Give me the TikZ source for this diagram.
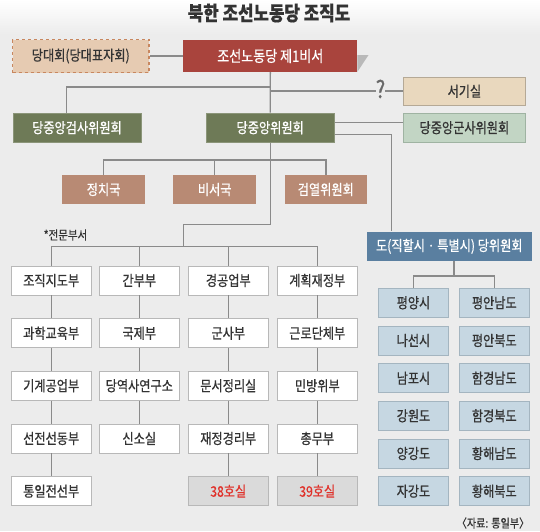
\documentclass[tikz,border=0pt]{standalone}
\usepackage{fontspec}
\setmainfont[FakeStretch=0.84, FakeBold=0.6]{Noto Sans CJK KR}
\usetikzlibrary{calc}
\definecolor{bgc}{HTML}{ECECEC}
\definecolor{olivec}{HTML}{6E7A57}
\definecolor{rosec}{HTML}{B88A74}
\definecolor{redc}{HTML}{A9443D}
\definecolor{tanc}{HTML}{E6CBB2}
\definecolor{tanedge}{HTML}{C8875F}
\definecolor{tan2}{HTML}{E9D8BE}
\definecolor{tan2edge}{HTML}{B5A996}
\definecolor{greenc}{HTML}{C2D5C4}
\definecolor{greenedge}{HTML}{9FB3A2}
\definecolor{provc}{HTML}{5A7FA0}
\definecolor{lblue}{HTML}{C6D7E2}
\definecolor{lblueedge}{HTML}{A4B5C0}
\definecolor{wedge}{HTML}{B8B8B8}
\definecolor{grayfill}{HTML}{DADADA}
\definecolor{redtxt}{HTML}{E0312A}
\definecolor{linec}{HTML}{8A8A8A}
\definecolor{txt}{HTML}{333333}
\tikzset{
  base/.style={rectangle, inner sep=0pt, anchor=center, font=\fontsize{14.5}{16}\selectfont},
  wbox/.style={base, fill=white, draw=wedge, line width=0.8pt, minimum width=80pt, minimum height=29pt, text=txt},
  rbox/.style={base, fill=grayfill, draw=wedge, line width=0.8pt, minimum width=80pt, minimum height=29pt, text=redtxt},
  bbox/.style={base, fill=lblue, draw=lblueedge, line width=0.8pt, minimum width=70pt, minimum height=29pt, text=txt},
  obox/.style={base, fill=olivec, draw=olivec!80!white, line width=0.8pt, minimum width=128pt, minimum height=29.5pt, text=white},
  brbox/.style={base, fill=rosec, minimum width=82.6pt, minimum height=29pt, text=white},
  conn/.style={draw=linec, line width=1.4pt},
}
\begin{document}
\begin{tikzpicture}[x=1pt,y=-1pt]
\useasboundingbox (0,0) rectangle (540,531);
\fill[bgc] (0,0) rectangle (540,531);
\shade[top color=white, bottom color=bgc] (0,0) rectangle (540,34);
% title
\node[font=\fontsize{20}{22}\selectfont\bfseries, text=txt] (title) at (269,13) {북한 조선노동당 조직도};
% top row
\node[base, fill=tanc, draw=tanedge, dashed, line width=1.3pt, minimum width=136.5pt, minimum height=33pt, text=txt] (dhd) at (80.75,56) {당대회(당대표자회)};
\fill[gray!55] (357.3,55) -- (368.5,55) -- (357.3,72) -- cycle;
\node[base, fill=redc, minimum width=174pt, minimum height=32pt, text=white, font=\fontsize{15.5}{17}\selectfont] (sec1) at (270.3,56) {조선노동당 제1비서};
\node[base, fill=tan2, draw=tan2edge, line width=0.8pt, minimum width=122pt, minimum height=28.5pt, text=txt] (sgs) at (464.4,91.2) {서기실};
\node[text=linec!75!black, font=\fontsize{24}{26}\selectfont, inner sep=0pt] (q) at (380.5,89) {?};
% second row
\node[obox] (gsw) at (77,127.7) {당중앙검사위원회};
\node[obox] (cc) at (270.2,127.7) {당중앙위원회};
\node[base, fill=greenc, draw=greenedge, line width=0.8pt, minimum width=122pt, minimum height=29.5pt, text=txt] (gsa) at (464.4,127.7) {당중앙군사위원회};
% third row
\node[brbox] (pol) at (103.6,189.5) {정치국};
\node[brbox] (secb) at (214.7,189.5) {비서국};
\node[brbox] (insp) at (325.8,189.5) {검열위원회};
% province
\node[base, fill=provc, minimum width=164.7pt, minimum height=29.3pt, text=white] (prov) at (449.3,246.3) {도(직할시 · 특별시) 당위원회};
% note
\node[text=txt, font=\fontsize{12.5}{14}\selectfont, inner sep=0pt] (note) at (65.5,235) {*전문부서};
\node[text=txt, font=\fontsize{12}{14}\selectfont, inner sep=0pt] (src) at (493,523) {〈자료: 통일부〉};
% grid
\node[wbox] (c11) at (51.2,280.5) {조직지도부};
\node[wbox] (c12) at (51.2,333.2) {과학교육부};
\node[wbox] (c13) at (51.2,385.8) {기계공업부};
\node[wbox] (c14) at (51.2,438.5) {선전선동부};
\node[wbox] (c15) at (51.2,491.2) {통일전선부};
\node[wbox] (c21) at (139.3,280.5) {간부부};
\node[wbox] (c22) at (139.3,333.2) {국제부};
\node[wbox] (c23) at (139.3,385.8) {당역사연구소};
\node[wbox] (c24) at (139.3,438.5) {신소실};
\node[wbox] (c31) at (228.3,280.5) {경공업부};
\node[wbox] (c32) at (228.3,333.2) {군사부};
\node[wbox] (c33) at (228.3,385.8) {문서정리실};
\node[wbox] (c34) at (228.3,438.5) {재정경리부};
\node[rbox] (c35) at (228.3,491.2) {38호실};
\node[wbox] (c41) at (317.3,280.5) {계획재정부};
\node[wbox] (c42) at (317.3,333.2) {근로단체부};
\node[wbox] (c43) at (317.3,385.8) {민방위부};
\node[wbox] (c44) at (317.3,438.5) {총무부};
\node[rbox] (c45) at (317.3,491.2) {39호실};
% right grid
\node[bbox] (p11) at (413.5,302.8) {평양시};
\node[bbox] (p21) at (413.5,340.5) {나선시};
\node[bbox] (p31) at (413.5,378.2) {남포시};
\node[bbox] (p41) at (413.5,415.8) {강원도};
\node[bbox] (p51) at (413.5,453.5) {양강도};
\node[bbox] (p61) at (413.5,491.2) {자강도};
\node[bbox] (p12) at (494.3,302.8) {평안남도};
\node[bbox] (p22) at (494.3,340.5) {평안북도};
\node[bbox] (p32) at (494.3,378.2) {함경남도};
\node[bbox] (p42) at (494.3,415.8) {함경북도};
\node[bbox] (p52) at (494.3,453.5) {황해남도};
\node[bbox] (p62) at (494.3,491.2) {황해북도};
% coordinates
\coordinate (ja) at (270.3,87);
\coordinate (jb) at (270.3,91);
\coordinate (gswtop) at (66.7,113);
\coordinate (pv) at (391.5,0);
\coordinate (b1) at (0,160);
\coordinate (s1) at (183.5,224.3);
\coordinate (g) at (0,246.7);
\coordinate (r) at (0,276);
\coordinate (pstem) at (454,261);
% connectors
\begin{scope}[conn]
\draw (dhd.east) -- (sec1.west);
\draw (sec1.south) -- (cc.north);
\draw (ja) -| (gswtop);
\draw (jb) -- (jb -| q.west);
\draw (q.east |- jb) -- (sgs.west |- jb);
\draw ([yshift=5pt]cc.east) -- ([yshift=5pt]cc.east -| gsa.west);
\draw ([yshift=-6.5pt]cc.east) -| (prov.north -| pv);
\draw (pol.north) |- (insp.north |- b1) -- (insp.north);
\draw (secb.north) -- (secb.north |- b1);
\draw (cc.south) |- (s1) -- (s1 |- g);
\draw (c11.north) |- (c41.north |- g) -- (c41.north);
\draw (c21.north) -- (c21.north |- g);
\draw (c31.north) -- (c31.north |- g);
\draw (c11.south) -- (c12.north);
\draw (c12.south) -- (c13.north);
\draw (c13.south) -- (c14.north);
\draw (c14.south) -- (c15.north);
\draw (c21.south) -- (c22.north);
\draw (c22.south) -- (c23.north);
\draw (c23.south) -- (c24.north);
\draw (c31.south) -- (c32.north);
\draw (c32.south) -- (c33.north);
\draw (c33.south) -- (c34.north);
\draw (c34.south) -- (c35.north);
\draw (c41.south) -- (c42.north);
\draw (c42.south) -- (c43.north);
\draw (c43.south) -- (c44.north);
\draw (c44.south) -- (c45.north);
\draw (pstem) -- (pstem |- r);
\draw (p11.north) |- (p12.north |- r) -- (p12.north);
\end{scope}
\end{tikzpicture}
\end{document}
